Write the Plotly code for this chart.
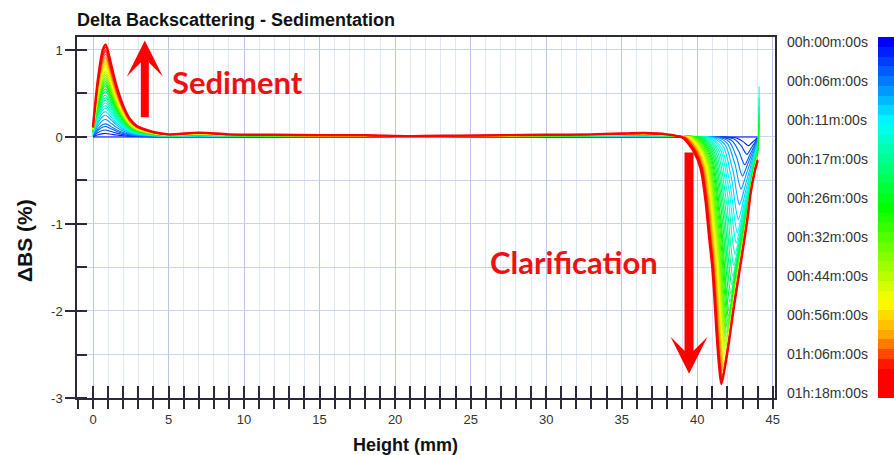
import plotly.graph_objects as go

# ---------------- data ----------------
TIME_LABELS = ["00h:00m:00s", "00h:06m:00s", "00h:11m:00s", "00h:17m:00s",
               "00h:26m:00s", "00h:32m:00s", "00h:44m:00s", "00h:56m:00s",
               "01h:06m:00s", "01h:18m:00s"]
LABEL_STEP = 4  # one label every 4 scans

Y_TICKS = [1, 0, -1, -2, -3]
Y_TICK_TEXT = ["1", "0", "-1", "-2", "-3"]

# final (red) scan, sediment peak region (height mm, dBS %)
SED_X = [0, 0.33, 0.66, 0.84, 1.22, 1.55, 2.0, 2.43, 2.88, 3.3, 3.98]
SED_Y = [0.12, 0.67, 1.01, 1.06, 0.82, 0.59, 0.36, 0.21, 0.13, 0.095, 0.057]
# final scan, flat middle region
BASE_X = [5, 7, 9, 12, 15, 18, 21, 24, 27, 30, 33, 35, 36.5, 38]
BASE_Y = [0.03, 0.05, 0.03, 0.025, 0.02, 0.02, 0.01, 0.015, 0.02, 0.025, 0.03, 0.04, 0.045, 0.03]
# clarification dip profile (normalised: position fraction, depth fraction)
CLAR_LEFT_U = [0, 0.081, 0.33, 0.49, 0.615, 0.696, 0.778, 0.837, 0.885, 0.944, 1.0]
CLAR_LEFT_V = [0, 0.007, 0.06, 0.127, 0.264, 0.40, 0.53, 0.67, 0.80, 0.926, 1.0]
CLAR_RIGHT_W = [0.167, 0.35, 0.583, 0.72, 0.81, 0.92, 1.0]
CLAR_RIGHT_V = [0.87, 0.683, 0.465, 0.331, 0.225, 0.141, 0.095]
CLAR_END = 44.0
SPIKE_X = 44.1

# per-scan parameters (scan 0 = first, blue ... scan 36 = last, red)
PEAK = [0, 0.04, 0.08, 0.12, 0.15, 0.2, 0.25, 0.29, 0.33, 0.36, 0.39, 0.42, 0.45,
        0.48, 0.52, 0.55, 0.58, 0.6, 0.62, 0.64, 0.66, 0.68, 0.71, 0.73, 0.75,
        0.77, 0.8, 0.82, 0.84, 0.87, 0.9, 0.92, 0.95, 0.98, 1.0, 1.03, 1.06]
DEPTH = [0, 0.1, 0.2, 0.32, 0.45, 0.6, 0.78, 0.95, 1.1, 1.22, 1.35, 1.48, 1.6,
         1.7, 1.8, 1.9, 2.0, 2.06, 2.12, 2.19, 2.25, 2.3, 2.35, 2.4, 2.45,
         2.49, 2.54, 2.58, 2.62, 2.66, 2.69, 2.73, 2.76, 2.78, 2.8, 2.82, 2.84]
MINPOS = [43.5, 43.4, 43.3, 43.15, 43.0, 42.9, 42.8, 42.72, 42.65, 42.58, 42.5,
          42.42, 42.35, 42.28, 42.22, 42.16, 42.1, 42.06, 42.02, 41.98, 41.95,
          41.92, 41.9, 41.87, 41.85, 41.82, 41.8, 41.77, 41.75, 41.72, 41.7,
          41.67, 41.65, 41.64, 41.62, 41.61, 41.6]
START = [42.0, 41.8, 41.65, 41.45, 41.3, 41.15, 41.0, 40.85, 40.7, 40.6, 40.5,
         40.4, 40.3, 40.22, 40.15, 40.08, 40.0, 39.92, 39.85, 39.77, 39.7,
         39.65, 39.6, 39.55, 39.5, 39.45, 39.4, 39.35, 39.3, 39.25, 39.2,
         39.15, 39.1, 39.05, 39.0, 38.95, 38.9]
SPIKE = [None] * 9 + [0.58, None, 0.45, None, 0.35, None, 0.25, None, 0.15] + [None] * 19

N = len(PEAK)

# ---------------- colours ----------------
STOPS = [(0.0, (0, 0, 255)), (0.23, (0, 255, 255)), (0.47, (0, 255, 0)),
         (0.74, (255, 255, 0)), (0.84, (255, 160, 0)), (0.93, (255, 0, 0)),
         (1.0, (255, 0, 0))]


def scan_color(k):
    f = k / (N - 1)
    for (f0, c0), (f1, c1) in zip(STOPS[:-1], STOPS[1:]):
        if f0 <= f <= f1:
            t = 0 if f1 == f0 else (f - f0) / (f1 - f0)
            r, g, b = (round(a + (b_ - a) * t) for a, b_ in zip(c0, c1))
            return f"rgb({r},{g},{b})"
    return "rgb(255,0,0)"


fig = go.Figure()
red_peak = SED_Y[3]
for k in range(N):
    w = PEAK[k] / red_peak
    xs = list(SED_X)
    ys = [v * w for v in SED_Y]
    for bx, by in zip(BASE_X, BASE_Y):
        if bx < START[k] - 0.3:
            xs.append(bx)
            ys.append(by * w)
    L, M, D = START[k], MINPOS[k], DEPTH[k]
    for u, v in zip(CLAR_LEFT_U, CLAR_LEFT_V):
        xs.append(L + u * (M - L))
        ys.append(-D * v)
    for u, v in zip(CLAR_RIGHT_W, CLAR_RIGHT_V):
        xs.append(M + u * (CLAR_END - M))
        ys.append(-D * v)
    if SPIKE[k] is not None:
        xs.append(SPIKE_X)
        ys.append(SPIKE[k])
    fig.add_trace(go.Scatter(
        x=xs, y=ys, mode="lines",
        line=dict(color=scan_color(k), width=2.4 if k == N - 1 else 1.1,
                  shape="spline", smoothing=0.8),
        showlegend=False, hoverinfo="skip"))

# colour bar (discrete, blue at top)
cb_scale = []
for j in range(N):
    c = scan_color(N - 1 - j)
    cb_scale.append([j / N, c])
    cb_scale.append([(j + 1) / N, c])
fig.add_trace(go.Scatter(
    x=[None], y=[None], xaxis="x2", yaxis="y", mode="markers",
    marker=dict(color=[0], cmin=-0.5, cmax=N - 0.5, colorscale=cb_scale,
                showscale=True,
                colorbar=dict(thickness=20, len=1, lenmode="fraction",
                              y=0.5, yanchor="middle", x=1.1476, xanchor="left",
                              xpad=0, ypad=0, outlinewidth=0,
                              showticklabels=False, ticks="")),
    showlegend=False, hoverinfo="skip"))

annotations = []
for i, lab in enumerate(TIME_LABELS):
    v = N - 1 - i * LABEL_STEP
    annotations.append(dict(
        text=lab, xref="paper", yref="paper", x=1.0143, y=(v + 0.5) / N,
        xanchor="left", yanchor="middle", showarrow=False,
        font=dict(family="Arial", size=14, color="#333333")))

# axis titles
annotations.append(dict(text="<b>Height (mm)</b>", xref="paper", yref="paper",
                        x=0.47, y=-0.13, xanchor="center", yanchor="middle",
                        showarrow=False,
                        font=dict(family="Arial", size=18, color="#111111")))
annotations.append(dict(text="<b>ΔBS (%)</b>", xref="paper", yref="paper",
                        x=-0.0745, y=0.4377, xanchor="center", yanchor="middle",
                        textangle=-90, showarrow=False,
                        font=dict(family="Arial", size=21, color="#111111")))

# callouts
annotations.append(dict(text="<b>Sediment</b>", x=5.09, y=0.636, xanchor="left",
                        yanchor="middle", showarrow=False,
                        font=dict(family="Lato", size=31, color="#ee1111")))
annotations.append(dict(text="<b>Clarification</b>", x=26.17, y=-1.433,
                        xanchor="left", yanchor="middle", showarrow=False,
                        font=dict(family="Lato", size=31, color="#ee1111")))
annotations.append(dict(text="", x=3.43, y=1.11, ax=3.43, ay=0.21, axref="x",
                        ayref="y", showarrow=True, arrowhead=3, arrowwidth=8,
                        arrowsize=0.75, arrowcolor="#ff0000", standoff=0))
annotations.append(dict(text="", x=39.46, y=-2.72, ax=39.46, ay=-0.16, axref="x",
                        ayref="y", showarrow=True, arrowhead=3, arrowwidth=9,
                        arrowsize=0.685, arrowcolor="#ff0000", standoff=0))

XR = [-1.06, 45.15]
axis_line = "#2a2a3a"
fig.update_layout(
    width=894, height=455,
    margin=dict(l=77, r=119, t=37, b=57, autoexpand=False),
    paper_bgcolor="white", plot_bgcolor="white",
    title=dict(text="<b>Delta Backscattering - Sedimentation</b>",
               x=77 / 894, xanchor="left", y=1 - 20 / 455, yanchor="middle",
               font=dict(family="Arial", size=18, color="#111111")),
    xaxis=dict(range=XR, showline=True, linecolor=axis_line, linewidth=1.5,
               mirror=True, ticks="outside", ticklen=9, tickwidth=1.5,
               tickcolor=axis_line, dtick=5, tick0=0, zeroline=False,
               showgrid=True, gridcolor="#b9c6ea", gridwidth=1,
               tickfont=dict(family="Arial", size=13, color="#333333"),
               minor=dict(dtick=1, tick0=0, ticks="outside", ticklen=9,
                          tickwidth=1.5, tickcolor=axis_line, showgrid=True,
                          gridcolor="#dfe7f8")),
    xaxis2=dict(range=XR, overlaying="x", anchor="y", side="bottom",
                showline=False, ticks="inside", ticklen=12, tickwidth=1.5,
                tickcolor=axis_line, dtick=1, tick0=0, showticklabels=False,
                showgrid=False, zeroline=False),
    yaxis=dict(range=[-3, 1.149], showline=True, linecolor=axis_line,
               linewidth=1.5, mirror=True, ticks="outside", ticklen=10,
               tickwidth=1.5, tickcolor=axis_line, tickmode="array",
               tickvals=Y_TICKS, ticktext=Y_TICK_TEXT,
               zeroline=False, showgrid=True, gridcolor="#c9d5f0",
               tickfont=dict(family="Arial", size=13, color="#333333"),
               minor=dict(dtick=0.5, tick0=0, ticks="inside", ticklen=10,
                          tickwidth=1.5, tickcolor=axis_line, showgrid=True,
                          gridcolor="#c9d5f0")),
    annotations=annotations,
)

fig.write_html("out.html")
